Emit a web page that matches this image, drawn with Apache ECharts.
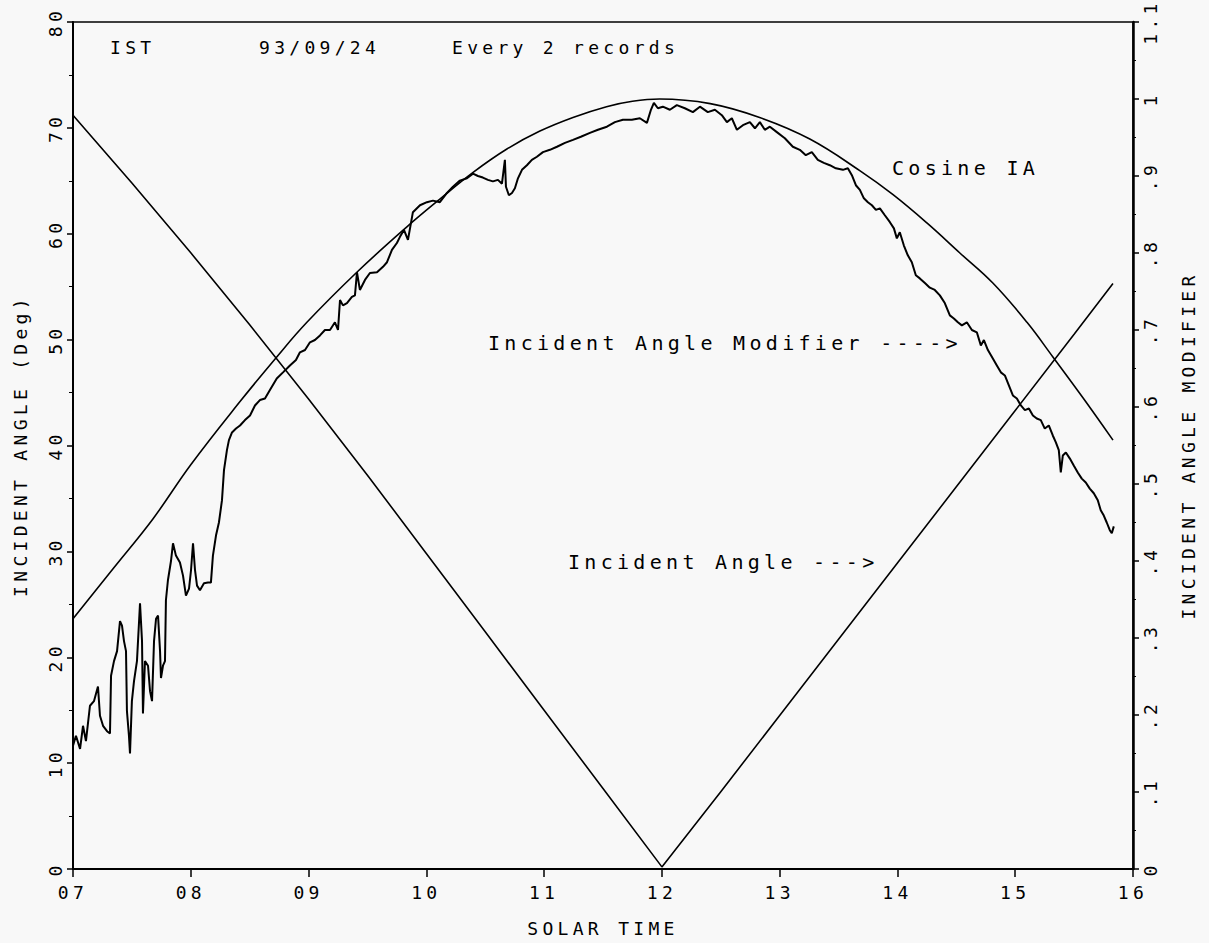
<!DOCTYPE html>
<html>
<head>
<meta charset="utf-8">
<title>Incident Angle Modifier</title>
<script src="https://cdn.jsdelivr.net/npm/echarts@6/dist/echarts.min.js"></script>
<style>
  html, body { margin: 0; padding: 0; background: #f8f8f8; }
  #chart { width: 1209px; height: 943px; }
  /* plotter-style wide lettering */
  #chart svg text { letter-spacing: 4.3px; }
</style>
</head>
<body>
<div id="chart"></div>
<script>
// Solar time axis tick labels
const xTickLabels = ['07', '08', '09', '10', '11', '12', '13', '14', '15', '16'];
const leftTickLabels = ['0', '10', '20', '30', '40', '50', '60', '70', '80'];
const rightTickLabels = ['0', '.1', '.2', '.3', '.4', '.5', '.6', '.7', '.8', '.9', '1', '1.1'];

// Incident angle (deg) vs solar time
const angleTime = [7, 7.5, 8, 8.5, 9, 9.5, 10, 10.5, 11, 11.5, 12, 12.5, 13, 13.5, 14, 14.5, 15, 15.5, 15.83];
const angleDeg  = [71.2, 64.8, 58.2, 51.4, 44.4, 37.2, 29.8, 22.4, 15.0, 7.6, 0.2, 7.3, 14.5, 21.7, 28.9, 36.1, 43.3, 50.5, 55.3];

// Cosine of the incident angle
const cosTime = [7, 7.34, 7.68, 8.0, 8.418, 8.73, 8.986, 9.41, 9.835, 10.115, 10.40, 10.684, 10.96, 11.245, 11.53, 11.75, 11.98, 12.41, 12.83, 13.256, 13.68, 13.96, 14.25, 14.53, 14.81, 15.10, 15.32, 15.575, 15.83];
const cosIAM  = [0.325, 0.390, 0.455, 0.525, 0.607, 0.665, 0.710, 0.775, 0.834, 0.870, 0.905, 0.935, 0.958, 0.976, 0.990, 0.997, 1.000, 0.994, 0.976, 0.948, 0.907, 0.876, 0.839, 0.800, 0.761, 0.710, 0.665, 0.612, 0.557];

// Measured incident angle modifier (every 2 records)
const measTime = [
  7.000, 7.025, 7.060, 7.085, 7.110, 7.144, 7.178, 7.212, 7.229, 7.255, 7.289, 7.314, 7.323, 7.348, 7.374, 7.399,
  7.416, 7.433, 7.450, 7.458, 7.475, 7.484, 7.500, 7.518, 7.543, 7.569, 7.586, 7.594, 7.611, 7.637, 7.654, 7.671,
  7.688, 7.705, 7.722, 7.739, 7.747, 7.764, 7.781, 7.789, 7.806, 7.832, 7.849, 7.874, 7.908, 7.934, 7.959, 7.985,
  8.002, 8.019, 8.036, 8.053, 8.078, 8.112, 8.146, 8.171, 8.188, 8.214, 8.239, 8.265, 8.282, 8.307, 8.324, 8.350,
  8.384, 8.418, 8.460, 8.503, 8.545, 8.587, 8.630, 8.672, 8.730, 8.783, 8.842, 8.893, 8.927, 8.970, 9.012, 9.054,
  9.097, 9.139, 9.182, 9.224, 9.250, 9.267, 9.292, 9.326, 9.368, 9.394, 9.411, 9.436, 9.479, 9.521, 9.581, 9.632,
  9.666, 9.708, 9.750, 9.776, 9.810, 9.844, 9.886, 9.946, 10.005, 10.056, 10.115, 10.175, 10.226, 10.285, 10.345, 10.396,
  10.438, 10.480, 10.523, 10.565, 10.608, 10.642, 10.667, 10.676, 10.701, 10.727, 10.752, 10.778, 10.812, 10.854, 10.896, 10.939,
  10.990, 11.049, 11.109, 11.177, 11.245, 11.312, 11.389, 11.457, 11.533, 11.601, 11.669, 11.745, 11.813, 11.873, 11.907, 11.932,
  11.966, 12.008, 12.068, 12.127, 12.195, 12.263, 12.323, 12.390, 12.450, 12.509, 12.552, 12.594, 12.637, 12.688, 12.747, 12.790,
  12.832, 12.874, 12.917, 12.976, 13.044, 13.112, 13.171, 13.222, 13.273, 13.324, 13.375, 13.426, 13.477, 13.537, 13.579, 13.613,
  13.647, 13.681, 13.715, 13.749, 13.783, 13.817, 13.851, 13.893, 13.936, 13.970, 13.995, 14.020, 14.054, 14.088, 14.122, 14.156,
  14.190, 14.233, 14.275, 14.317, 14.360, 14.402, 14.445, 14.479, 14.513, 14.547, 14.589, 14.632, 14.674, 14.708, 14.734, 14.768,
  14.810, 14.844, 14.878, 14.912, 14.946, 14.980, 15.014, 15.048, 15.082, 15.116, 15.150, 15.183, 15.217, 15.251, 15.285, 15.319,
  15.345, 15.370, 15.387, 15.404, 15.430, 15.464, 15.497, 15.531, 15.565, 15.599, 15.633, 15.667, 15.701, 15.726, 15.752, 15.777,
  15.803, 15.820, 15.837
];
const measIAM = [
  0.160, 0.173, 0.156, 0.186, 0.166, 0.212, 0.218, 0.237, 0.199, 0.186, 0.179, 0.176, 0.251, 0.270, 0.283, 0.322,
  0.316, 0.296, 0.283, 0.205, 0.173, 0.150, 0.218, 0.244, 0.270, 0.345, 0.296, 0.202, 0.270, 0.264, 0.231, 0.218,
  0.296, 0.325, 0.329, 0.283, 0.248, 0.264, 0.270, 0.349, 0.375, 0.400, 0.423, 0.407, 0.398, 0.381, 0.355, 0.364,
  0.388, 0.423, 0.388, 0.368, 0.362, 0.371, 0.372, 0.372, 0.407, 0.433, 0.450, 0.479, 0.518, 0.544, 0.557, 0.567,
  0.572, 0.576, 0.583, 0.589, 0.602, 0.609, 0.611, 0.622, 0.637, 0.645, 0.654, 0.661, 0.671, 0.674, 0.684, 0.687,
  0.693, 0.700, 0.700, 0.710, 0.700, 0.739, 0.732, 0.735, 0.743, 0.745, 0.775, 0.752, 0.765, 0.774, 0.775, 0.782,
  0.788, 0.804, 0.813, 0.821, 0.830, 0.817, 0.853, 0.862, 0.866, 0.868, 0.866, 0.878, 0.886, 0.894, 0.897, 0.903,
  0.900, 0.898, 0.895, 0.893, 0.895, 0.890, 0.921, 0.886, 0.875, 0.878, 0.884, 0.897, 0.908, 0.914, 0.921, 0.925,
  0.931, 0.934, 0.938, 0.943, 0.947, 0.951, 0.956, 0.960, 0.964, 0.970, 0.973, 0.973, 0.975, 0.969, 0.986, 0.995,
  0.988, 0.990, 0.986, 0.992, 0.988, 0.983, 0.990, 0.983, 0.986, 0.979, 0.970, 0.975, 0.960, 0.966, 0.970, 0.962,
  0.970, 0.960, 0.964, 0.957, 0.949, 0.938, 0.934, 0.927, 0.931, 0.921, 0.917, 0.914, 0.910, 0.908, 0.910, 0.901,
  0.888, 0.882, 0.871, 0.866, 0.862, 0.856, 0.858, 0.849, 0.840, 0.832, 0.819, 0.827, 0.810, 0.797, 0.788, 0.771,
  0.767, 0.761, 0.755, 0.752, 0.745, 0.735, 0.719, 0.715, 0.710, 0.706, 0.710, 0.700, 0.697, 0.680, 0.687, 0.674,
  0.663, 0.654, 0.645, 0.641, 0.628, 0.615, 0.611, 0.602, 0.596, 0.598, 0.589, 0.585, 0.583, 0.572, 0.576, 0.563,
  0.554, 0.544, 0.515, 0.537, 0.541, 0.533, 0.524, 0.515, 0.507, 0.502, 0.494, 0.488, 0.479, 0.466, 0.459, 0.450,
  0.440, 0.436, 0.445
];

const FONT = 'DejaVu Sans Mono';
const INK = '#000';

function pairs(xs, ys) { return xs.map((x, i) => [x, ys[i]]); }

const chart = echarts.init(document.getElementById('chart'), null, { renderer: 'svg' });

chart.setOption({
  animation: false,
  backgroundColor: '#f8f8f8',
  textStyle: { fontFamily: FONT, color: INK },
  grid: {
    left: 73, right: 76, top: 22, bottom: 74,
    show: true, borderColor: INK, borderWidth: 1.5, backgroundColor: 'transparent'
  },
  xAxis: {
    type: 'value', min: 7, max: 16, interval: 1,
    name: 'SOLAR TIME', nameLocation: 'middle', nameGap: 50,
    nameTextStyle: { fontFamily: FONT, fontSize: 18, color: INK },
    axisLine: { show: true, lineStyle: { color: INK, width: 2 } },
    axisTick: { show: true, length: 8, lineStyle: { color: INK, width: 1.5 } },
    axisLabel: {
      fontFamily: FONT, fontSize: 18, color: INK, margin: 14,
      formatter: v => xTickLabels[Math.round(v - 7)]
    },
    splitLine: { show: false }
  },
  yAxis: [
    {
      type: 'value', min: 0, max: 80, interval: 10, position: 'left',
      name: 'INCIDENT ANGLE (Deg)', nameLocation: 'middle', nameGap: 44, nameRotate: 90,
      nameTextStyle: { fontFamily: FONT, fontSize: 18, color: INK },
      axisLine: { show: true, lineStyle: { color: INK, width: 2 } },
      axisTick: { show: true, length: 6, lineStyle: { color: INK, width: 1.5 } },
      minorTick: { show: true, splitNumber: 2, length: 4, lineStyle: { color: INK, width: 1 } },
      axisLabel: {
        fontFamily: FONT, fontSize: 18, color: INK, rotate: 90, margin: 9,
        formatter: v => leftTickLabels[Math.round(v / 10)]
      },
      splitLine: { show: false }
    },
    {
      type: 'value', min: 0, max: 1.1, interval: 0.1, position: 'right',
      name: 'INCIDENT ANGLE MODIFIER', nameLocation: 'middle', nameGap: 46, nameRotate: 90,
      nameTextStyle: { fontFamily: FONT, fontSize: 18, color: INK },
      axisLine: { show: true, lineStyle: { color: INK, width: 2.5 } },
      axisTick: { show: true, length: 6, lineStyle: { color: INK, width: 1.5 } },
      minorTick: { show: true, splitNumber: 2, length: 3, lineStyle: { color: INK, width: 1 } },
      axisLabel: {
        fontFamily: FONT, fontSize: 18, color: INK, rotate: 90, margin: 8,
        formatter: v => rightTickLabels[Math.round(v * 10)]
      },
      splitLine: { show: false }
    }
  ],
  graphic: [
    { type: 'text', x: 110, y: 47, style: { text: 'IST', font: '18px "DejaVu Sans Mono"', fill: INK, textVerticalAlign: 'middle' } },
    { type: 'text', x: 259, y: 47, style: { text: '93/09/24', font: '18px "DejaVu Sans Mono"', fill: INK, textVerticalAlign: 'middle' } },
    { type: 'text', x: 452, y: 47, style: { text: 'Every 2 records', font: '18px "DejaVu Sans Mono"', fill: INK, textVerticalAlign: 'middle' } },
    { type: 'text', x: 892, y: 168, style: { text: 'Cosine IA', font: '20px "DejaVu Sans Mono"', fill: INK, textVerticalAlign: 'middle' } },
    { type: 'text', x: 488, y: 343, style: { text: 'Incident Angle Modifier ---->', font: '20px "DejaVu Sans Mono"', fill: INK, textVerticalAlign: 'middle' } },
    { type: 'text', x: 568, y: 562, style: { text: 'Incident Angle --->', font: '20px "DejaVu Sans Mono"', fill: INK, textVerticalAlign: 'middle' } }
  ],
  series: [
    {
      name: 'Incident Angle', type: 'line', yAxisIndex: 0,
      data: pairs(angleTime, angleDeg),
      showSymbol: false, smooth: false,
      lineStyle: { color: INK, width: 1.6 }
    },
    {
      name: 'Cosine IA', type: 'line', yAxisIndex: 1,
      data: pairs(cosTime, cosIAM),
      showSymbol: false, smooth: 0.4,
      lineStyle: { color: INK, width: 1.6 }
    },
    {
      name: 'Incident Angle Modifier', type: 'line', yAxisIndex: 1,
      data: pairs(measTime, measIAM),
      showSymbol: false, smooth: false,
      lineStyle: { color: INK, width: 2 }
    }
  ]
});
</script>
</body>
</html>
